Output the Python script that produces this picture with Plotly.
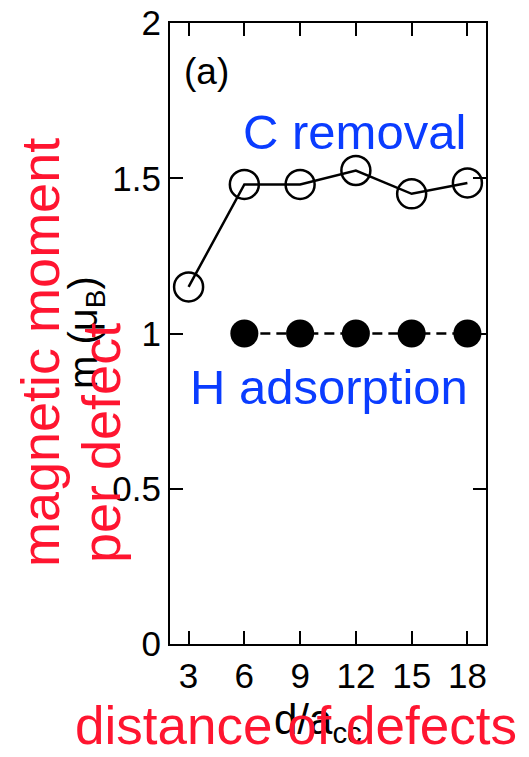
import plotly.graph_objects as go

# data
d_c = [3, 6, 9, 12, 15, 18]
m_c = [1.15, 1.48, 1.48, 1.525, 1.45, 1.485]
d_h = [6, 9, 12, 15, 18]
m_h = [1.0, 1.0, 1.0, 1.0, 1.0]
x_ticks = [3, 6, 9, 12, 15, 18]
y_ticks = [0, 0.5, 1, 1.5, 2]

W, H = 529, 757
L, R, T, B = 170, 486, 23, 644

def px(x):
    return (x - L) / (R - L)

def py(y):
    return (B - y) / (B - T)

fig = go.Figure()
fig.add_trace(go.Scatter(
    x=d_c, y=m_c, mode="lines+markers",
    line=dict(color="black", width=2.5),
    marker=dict(symbol="circle-open", size=29, color="black", line=dict(width=2.5)),
    showlegend=False))
fig.add_trace(go.Scatter(
    x=d_h, y=m_h, mode="lines+markers",
    line=dict(color="black", width=2.5, dash="10px,6px"),
    marker=dict(symbol="circle", size=28, color="black"),
    showlegend=False))

blk = "Liberation Sans, Arial"
tickfont = dict(family=blk, size=35, color="black")
fig.update_xaxes(range=[2, 19], tickvals=x_ticks, ticks="inside", ticklen=13, tickwidth=1.5,
                 tickcolor="black", showline=True, linecolor="black", linewidth=2, mirror="ticks",
                 showgrid=False, zeroline=False, tickfont=tickfont, automargin=False)
fig.update_yaxes(range=[0, 2], tickvals=y_ticks, ticks="inside", ticklen=13, tickwidth=1.5,
                 tickcolor="black", showline=True, linecolor="black", linewidth=2, mirror="ticks",
                 showgrid=False, zeroline=False, tickfont=tickfont, automargin=False)

ann = []
ann.append(dict(text="(a)", x=px(206), y=py(71), font=dict(family=blk, size=37, color="black")))
ann.append(dict(text="d/a<sub>cc</sub>", x=px(318), y=py(722), font=dict(family=blk, size=42, color="black")))
ann.append(dict(text="m (μ<sub>B</sub>)", x=px(86), y=py(333), textangle=-90, font=dict(family=blk, size=40, color="black")))
blue = "#0a3cff"
red = "#ff1530"
sf = "Liberation Sans, Arial"
ann.append(dict(text="C removal", x=px(354), y=py(132), font=dict(family=sf, size=49, color=blue)))
ann.append(dict(text="H adsorption", x=px(329), y=py(387), font=dict(family=sf, size=49, color=blue)))
ann.append(dict(text="magnetic moment", x=px(40), y=py(353), textangle=-90, font=dict(family=sf, size=54, color=red)))
ann.append(dict(text="per defect", x=px(101), y=py(443), textangle=-90, font=dict(family=sf, size=54, color=red)))
ann.append(dict(text="distance of defects", x=px(296), y=py(725), font=dict(family=sf, size=53, color=red)))
for a in ann:
    a.update(xref="paper", yref="paper", showarrow=False, xanchor="center", yanchor="middle")

fig.update_layout(width=W, height=H, margin=dict(l=L, r=W - R, t=T, b=H - B),
                  plot_bgcolor="white", paper_bgcolor="white", annotations=ann)
fig.write_html("out.html")
